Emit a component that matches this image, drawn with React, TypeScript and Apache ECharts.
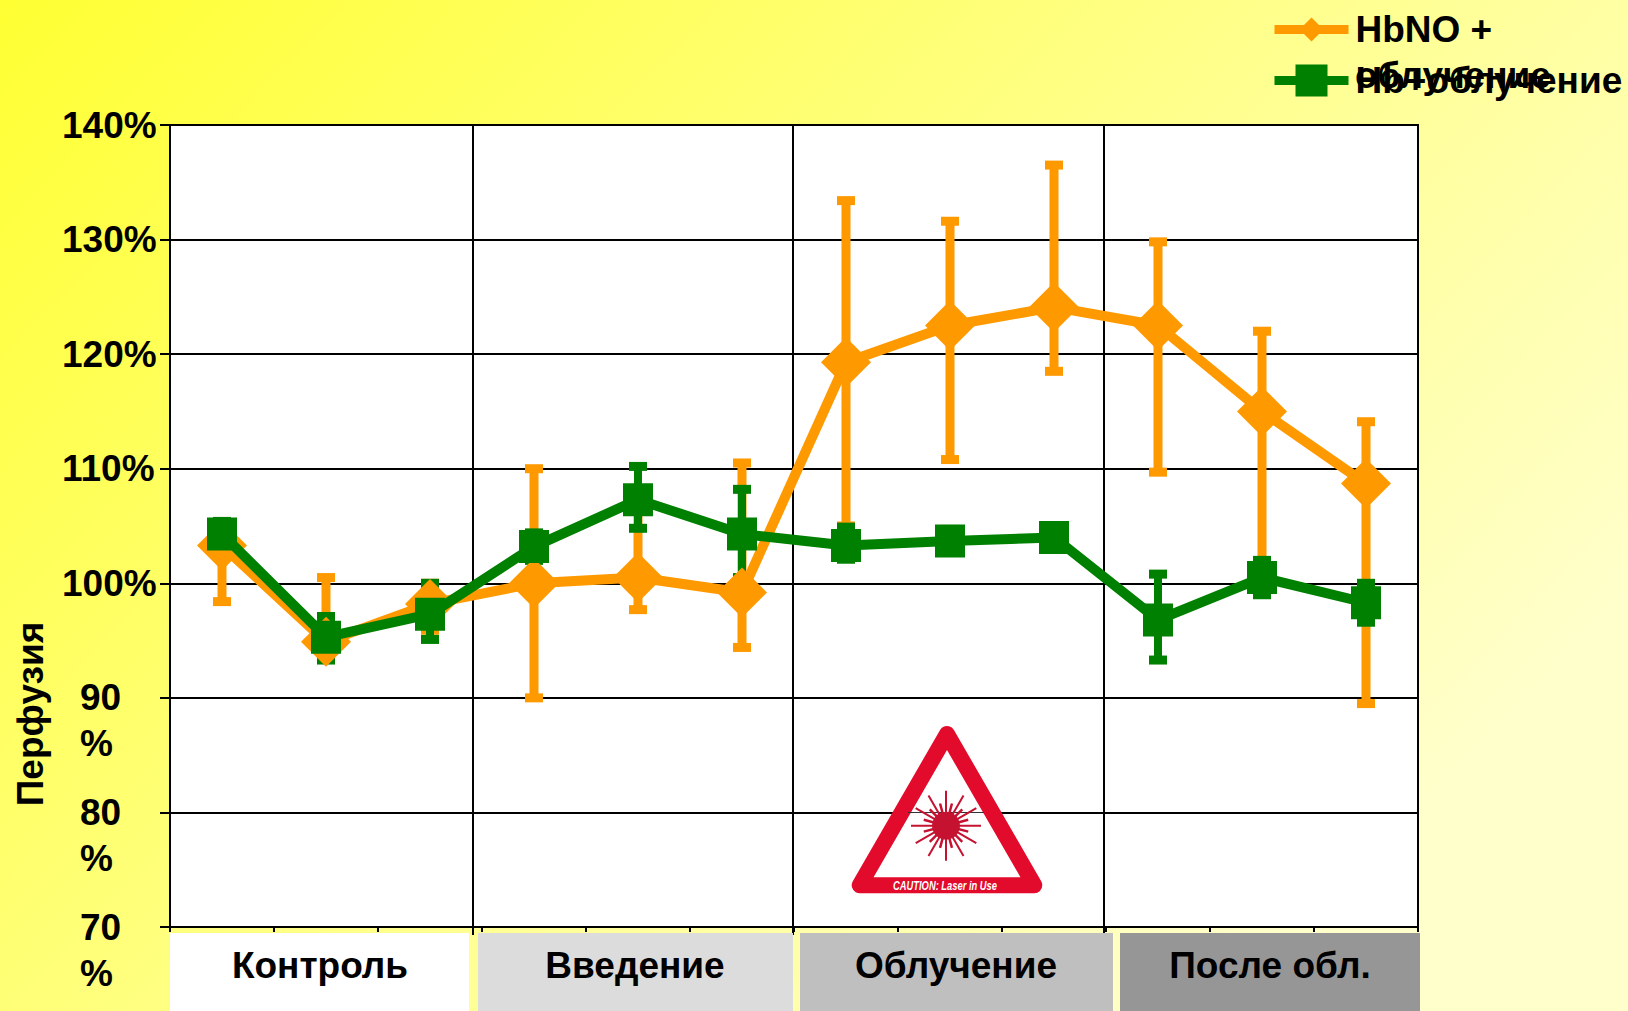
import React, { useEffect, useRef } from "react";
import * as echarts from "echarts";

const categories = ["1", "2", "3", "4", "5", "6", "7", "8", "9", "10", "11", "12"];
const seriesNames = ["HbNO + облучение", "Hb+облучение"];
const hbnoValues = [103.3, 94.9, 98.2, 100, 100.5, 99.2, 119.3, 122.5, 124.1, 122.5, 115, 108.7];
const hbnoLow = [98.4, 94, 95.9, 90, 97.7, 94.4, 105, 110.8, 118.5, 109.7, 101, 89.5];
const hbnoHigh = [105.2, 100.5, 100, 110, 107, 110.5, 133.4, 131.6, 136.5, 129.8, 122, 114.1];
const hbValues = [104.3, 95.3, 97.3, 103.2, 107.3, 104.3, 103.3, 103.7, 104, 96.8, 100.5, 98.3];
const hbLow = [103, 93.3, 95.1, 102, 104.8, 100.5, 102.1, 102.7, 103, 93.3, 99, 96.6];
const hbHigh = [105.4, 97.1, 100, 104.4, 110.2, 108.2, 104.9, 104.7, 105, 100.8, 102, 100];
const phaseLabels = ["Контроль", "Введение", "Облучение", "После обл."];
const phaseColors = ["#ffffff", "#dcdcdc", "#bfbfbf", "#969696"];
const phaseLeft = [170, 478, 800, 1120];
const phaseRight = [469, 793, 1113, 1420];
const phaseText = [320, 635, 956, 1270];
const dividers = [473, 793, 1104];

const ORANGE = "#ff9900";
const GREEN = "#008000";
const FONT = '"Liberation Sans", Arial, sans-serif';

function errorSeries(name: string, low: number[], high: number[], color: string, width: number, z: number) {
  return {
    type: "custom",
    name: name + " ±",
    z,
    silent: true,
    data: categories.map((_, i) => [i, low[i], high[i]]),
    encode: { x: 0, y: [1, 2] },
    renderItem: (_: any, api: any) => {
      const lo = api.coord([api.value(0), api.value(1)]);
      const hi = api.coord([api.value(0), api.value(2)]);
      const style = { fill: color };
      return {
        type: "group",
        children: [
          { type: "rect", shape: { x: lo[0] - width / 2, y: hi[1], width, height: lo[1] - hi[1] }, style },
          { type: "rect", shape: { x: lo[0] - 9, y: hi[1] - 4.5, width: 18, height: 9 }, style },
          { type: "rect", shape: { x: lo[0] - 9, y: lo[1] - 4.5, width: 18, height: 9 }, style },
        ],
      };
    },
  };
}

function laserSign() {
  const RED = "#e30b2b";
  const DARK = "#c41230";
  const cx = 946;
  const cy = 825.7;
  const rays: any[] = [];
  for (let k = 0; k < 12; k++) {
    const a = (k * Math.PI) / 6;
    rays.push({
      type: "line",
      z: 3,
      shape: { x1: cx, y1: cy, x2: cx + 35 * Math.cos(a), y2: cy + 35 * Math.sin(a) },
      style: { stroke: DARK, lineWidth: 2 },
    });
    const b = a + Math.PI / 12;
    rays.push({
      type: "line",
      z: 3,
      shape: { x1: cx, y1: cy, x2: cx + 23 * Math.cos(b), y2: cy + 23 * Math.sin(b) },
      style: { stroke: DARK, lineWidth: 2.5 },
    });
  }
  return [
    {
      type: "polygon",
      z: 2,
      shape: { points: [[947, 734], [859.7, 885.3], [1034.3, 885.3]] },
      style: { fill: "#ffffff", stroke: RED, lineWidth: 16, lineJoin: "round" },
    },
    { type: "line", z: 2, shape: { x1: 908, y1: 812.5, x2: 984, y2: 812.5 }, style: { stroke: "#333", lineWidth: 1 } },
    ...rays,
    { type: "circle", z: 3, shape: { cx, cy, r: 14 }, style: { fill: DARK } },
    {
      type: "text",
      z: 3,
      x: 945,
      y: 886,
      scaleX: 0.78,
      style: {
        text: "CAUTION: Laser in Use",
        fill: "#ffffff",
        font: `italic bold 12px ${FONT}`,
        align: "center",
        verticalAlign: "middle",
      },
    },
  ];
}

const tickLabel = (v: number) => (v >= 100 ? `${v}%` : `{w| }\n{w|${v}}\n{w|%}`);
const yTick = { show: true, length: 10, lineStyle: { color: "#000", width: 2 } };
const yLabelBase = {
  margin: 108,
  align: "left",
  hideOverlap: false,
  fontFamily: FONT,
  fontWeight: "bold",
  fontSize: 37,
  color: "#000",
  rich: {
    w: { fontFamily: FONT, fontWeight: "bold", fontSize: 37, color: "#000", lineHeight: 46, padding: [0, 0, 0, 18] },
  },
};

export default function App() {
  const ref = useRef<HTMLDivElement>(null);
  useEffect(() => {
    if (!ref.current) return;
    const chart = echarts.init(ref.current, undefined, { renderer: "svg" });
    const legendCommon = {
      orient: "horizontal",
      padding: 0,
      itemWidth: 74,
      lineStyle: { width: 9 },
      formatter: (n: string) => (n === seriesNames[0] ? "HbNO +" : n),
      textStyle: { fontFamily: FONT, fontWeight: "bold", fontSize: 37, color: "#000", padding: [0, 0, 0, 2] },
    };
    chart.setOption({
      animation: false,
      backgroundColor: {
        type: "linear",
        x: 0,
        y: 0,
        x2: 1,
        y2: 0.6,
        colorStops: [
          { offset: 0, color: "#ffff33" },
          { offset: 0.5, color: "#ffff80" },
          { offset: 1, color: "#ffffcc" },
        ],
      },
      grid: {
        left: 170,
        top: 125,
        width: 1248,
        height: 802,
        show: true,
        backgroundColor: "#ffffff",
        borderColor: "#000000",
        borderWidth: 2,
      },
      legend: [
        { ...legendCommon, data: [seriesNames[0]], left: 1270, top: 11, itemHeight: 30 },
        { ...legendCommon, data: [seriesNames[1]], left: 1270, top: 62, itemHeight: 40 },
      ],
      xAxis: {
        type: "category",
        data: categories,
        boundaryGap: true,
        axisLine: { show: true, lineStyle: { color: "#000", width: 2 } },
        axisTick: { show: true, length: 5, alignWithLabel: false, lineStyle: { color: "#000", width: 2 } },
        axisLabel: { show: false },
        splitLine: { show: false },
      },
      yAxis: [
        {
          type: "value",
          min: 70,
          max: 140,
          interval: 10,
          axisLine: { show: true, lineStyle: { color: "#000", width: 2 } },
          axisTick: yTick,
          splitLine: { show: true, lineStyle: { color: "#000", width: 2 } },
          axisLabel: { ...yLabelBase, showMinLabel: false, showMaxLabel: true, formatter: tickLabel },
        },
        {
          type: "value",
          position: "left",
          min: 70,
          max: 140,
          interval: 10,
          axisLine: { show: false },
          axisTick: yTick,
          splitLine: { show: false },
          axisLabel: {
            ...yLabelBase,
            showMinLabel: true,
            showMaxLabel: false,
            formatter: (v: number) => (v === 70 ? tickLabel(v) : ""),
          },
        },
      ],
      series: [
        errorSeries(seriesNames[0], hbnoLow, hbnoHigh, ORANGE, 9, 3),
        errorSeries(seriesNames[1], hbLow, hbHigh, GREEN, 8, 4),
        {
          type: "line",
          name: seriesNames[0],
          z: 5,
          data: hbnoValues,
          symbol: "diamond",
          symbolSize: [50, 50],
          lineStyle: { color: ORANGE, width: 10 },
          itemStyle: { color: ORANGE },
        },
        {
          type: "line",
          name: seriesNames[1],
          z: 6,
          data: hbValues,
          symbol: "rect",
          symbolSize: [30, 33],
          lineStyle: { color: GREEN, width: 10 },
          itemStyle: { color: GREEN },
        },
      ],
      graphic: [
        ...dividers.map((x) => ({
          type: "line",
          z: 1,
          shape: { x1: x, y1: 125, x2: x, y2: 935 },
          style: { stroke: "#000", lineWidth: 2 },
        })),
        ...phaseLabels.flatMap((label, i) => [
          {
            type: "rect",
            z: 1,
            shape: { x: phaseLeft[i], y: 933, width: phaseRight[i] - phaseLeft[i], height: 78 },
            style: { fill: phaseColors[i] },
          },
          {
            type: "text",
            z: 2,
            x: phaseText[i],
            y: 965,
            style: {
              text: label,
              fill: "#000",
              font: `bold 37px ${FONT}`,
              align: "center",
              verticalAlign: "middle",
            },
          },
        ]),
        {
          type: "text",
          z: 2,
          x: 30,
          y: 714,
          rotation: Math.PI / 2,
          style: {
            text: "Перфузия",
            fill: "#000",
            font: `bold 37px ${FONT}`,
            align: "center",
            verticalAlign: "middle",
          },
        },
        {
          type: "text",
          z: 2,
          x: 1355,
          y: 75,
          style: {
            text: "облучение",
            fill: "#000",
            font: `bold 37px ${FONT}`,
            align: "left",
            verticalAlign: "middle",
          },
        },
        ...laserSign(),
      ],
    });
    return () => chart.dispose();
  }, []);
  return <div ref={ref} style={{ position: "absolute", left: 0, top: 0, width: 1628, height: 1011 }} />;
}
